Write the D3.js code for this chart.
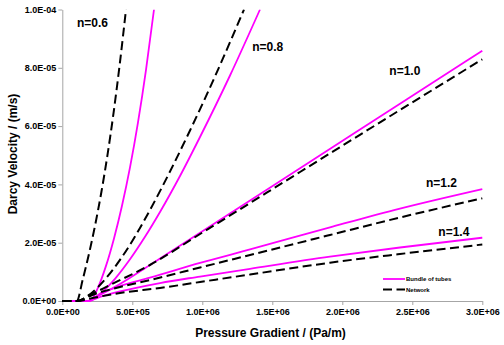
<!DOCTYPE html>
<html><head><meta charset="utf-8">
<script src="https://cdn.jsdelivr.net/npm/d3@7"></script>
<style>body{margin:0;background:#fff}svg{display:block}text{font-family:"Liberation Sans",Arial,sans-serif;font-weight:bold}</style>
</head><body><svg id="c" width="504" height="345"></svg>
<script>
const xTicks = [0, 5e5, 1e6, 1.5e6, 2e6, 2.5e6, 3e6];
const yTicks = [0, 2e-5, 4e-5, 6e-5, 8e-5, 1e-4];
const seriesNames = ["Bundle of tubes", "Network"];
const nLabels = ["n=0.6", "n=0.8", "n=1.0", "n=1.2", "n=1.4"];
const labelPos = [[1.05e5, 9.4e-5], [1.357e6, 8.58e-5], [2.336e6, 7.75e-5], [2.598e6, 3.92e-5], [2.686e6, 2.24e-5]];

// Bundle of tubes (G Pa/m, v m/s)
const bundle06 = [[0,0],[1.979e5,0],[2.55e5,4.6e-6],[3.121e5,1.204e-5],[3.693e5,2.147e-5],[4.264e5,3.266e-5],[4.836e5,4.583e-5],[5.407e5,6.127e-5],[5.979e5,7.931e-5],[6.55e5,1.0e-4]];
const bundle08 = [[0,0],[1.836e5,0],[2.693e5,2.47e-6],[3.764e5,7.62e-6],[4.836e5,1.431e-5],[5.907e5,2.202e-5],[6.979e5,3.053e-5],[8.407e5,4.288e-5],[9.836e5,5.626e-5],[1.1979e6,7.736e-5],[1.4121e6,1.0e-4]];
const bundle10 = [[0,0],[1.84e5,0],[2.69e5,2.06e-6],[4.12e5,5.83e-6],[6.26e5,1.235e-5],[9.84e5,2.34e-5],[1.698e6,4.552e-5],[2.412e6,6.765e-5],[3.0e6,8.587e-5]];
const bundle12 = [[0,0],[1.84e5,0],[2.69e5,2.4e-6],[4.12e5,5.15e-6],[6.26e5,7.99e-6],[9.84e5,1.304e-5],[1.341e6,1.767e-5],[1.912e6,2.528e-5],[2.412e6,3.173e-5],[3.0e6,3.842e-5]];
const bundle14 = [[0,0],[1.84e5,0],[2.69e5,1.37e-6],[4.12e5,3.26e-6],[6.98e5,6.17e-6],[9.84e5,8.4e-6],[1.341e6,1.105e-5],[1.912e6,1.52e-5],[2.412e6,1.835e-5],[3.0e6,2.171e-5]];
// Network
const network06 = [[0,0],[1.029e5,0],[1.469e5,7.55e-6],[1.909e5,1.626e-5],[2.349e5,2.611e-5],[2.789e5,3.732e-5],[3.229e5,5.015e-5],[3.669e5,6.48e-5],[4.109e5,8.151e-5],[4.55e5,1.0e-4]];
const network08 = [[0,0],[1.05e5,0],[1.979e5,2.33e-6],[3.05e5,7.41e-6],[4.121e5,1.41e-5],[5.193e5,2.213e-5],[6.264e5,3.122e-5],[7.693e5,4.443e-5],[9.121e5,5.849e-5],[1.0907e6,7.705e-5],[1.2979e6,1.0e-4]];
const network10 = [[0,0],[1.05e5,0],[1.98e5,2.06e-6],[3.41e5,5.49e-6],[6.26e5,1.235e-5],[9.84e5,2.298e-5],[1.698e6,4.425e-5],[2.412e6,6.552e-5],[3.0e6,8.292e-5]];
const network12 = [[0,0],[1.05e5,0],[2.34e5,2.4e-6],[4.12e5,4.8e-6],[6.26e5,7.2e-6],[9.84e5,1.149e-5],[1.341e6,1.578e-5],[1.912e6,2.264e-5],[2.412e6,2.864e-5],[3.0e6,3.523e-5]];
const network14 = [[0,0],[1.05e5,0],[2.34e5,1.2e-6],[4.12e5,2.74e-6],[6.98e5,4.46e-6],[9.84e5,6.52e-6],[1.341e6,9.09e-6],[1.912e6,1.314e-5],[2.412e6,1.612e-5],[3.0e6,1.938e-5]];

const bundleSeries = [bundle06, bundle08, bundle10, bundle12, bundle14];
const networkSeries = [network06, network08, network10, network12, network14];

const svg = d3.select("#c");
const x = d3.scaleLinear().domain([0, 3e6]).range([62.3, 482.3]);
const y = d3.scaleLinear().domain([0, 1e-4]).range([301, 9.5]);

function sci(v) {
  if (v === 0) return "0.0E+00";
  const e = Math.floor(Math.log10(Math.abs(v)) + 1e-9);
  const m = v / Math.pow(10, e);
  const es = (e < 0 ? "-" : "+") + String(Math.abs(e)).padStart(2, "0");
  return m.toFixed(1) + "E" + es;
}

const axisColor = "#a6a6a6";
const gx = svg.append("g").attr("transform", "translate(0,301)")
  .call(d3.axisBottom(x).tickValues(xTicks).tickFormat(sci).tickSize(4).tickSizeOuter(0).tickPadding(4));
const gy = svg.append("g").attr("transform", "translate(62.3,0)")
  .call(d3.axisLeft(y).tickValues(yTicks).tickFormat(sci).tickSize(4).tickSizeOuter(0).tickPadding(2));
[gx, gy].forEach(g => {
  g.selectAll("path,line").attr("stroke", axisColor).attr("stroke-width", 1);
  g.selectAll("text").attr("fill", "#000").style("font-size", "9px").style("font-weight", "bold")
   .style("font-family", '"Liberation Sans",Arial,sans-serif');
});

svg.append("defs").append("clipPath").attr("id", "clip")
  .append("rect").attr("x", 62).attr("y", 9.5).attr("width", 425).attr("height", 293);

const line = d3.line().x(d => x(d[0])).y(d => y(d[1])).curve(d3.curveMonotoneX);
const plot = svg.append("g").attr("clip-path", "url(#clip)");

bundleSeries.forEach(s => plot.append("path").attr("d", line(s)).attr("fill", "none")
  .attr("stroke", "#ff00ff").attr("stroke-width", 1.8));
networkSeries.forEach(s => plot.append("path").attr("d", line(s)).attr("fill", "none")
  .attr("stroke", "#000").attr("stroke-width", 2).attr("stroke-dasharray", "9,4.5"));

nLabels.forEach((t, i) => svg.append("text").attr("x", x(labelPos[i][0])).attr("y", y(labelPos[i][1]))
  .style("font-size", "12px").attr("fill", "#000").text(t));

// legend
const lg = svg.append("g");
[["#ff00ff", null, 279], ["#000", "9,4.5", 289.5]].forEach((d, i) => {
  const l = lg.append("line").attr("x1", 383).attr("x2", 405).attr("y1", d[2]).attr("y2", d[2])
    .attr("stroke", d[0]).attr("stroke-width", i ? 2 : 1.8);
  if (d[1]) l.attr("stroke-dasharray", d[1]);
  lg.append("text").attr("x", 406).attr("y", d[2] + 2.1).style("font-size", "6px").text(seriesNames[i]);
});

svg.append("text").attr("x", 270.5).attr("y", 336.5).attr("text-anchor", "middle")
  .style("font-size", "12px").text("Pressure Gradient / (Pa/m)");
svg.append("text").attr("transform", "translate(16.5,154) rotate(-90)").attr("text-anchor", "middle")
  .style("font-size", "12px").text("Darcy Velocity / (m/s)");
</script></body></html>
